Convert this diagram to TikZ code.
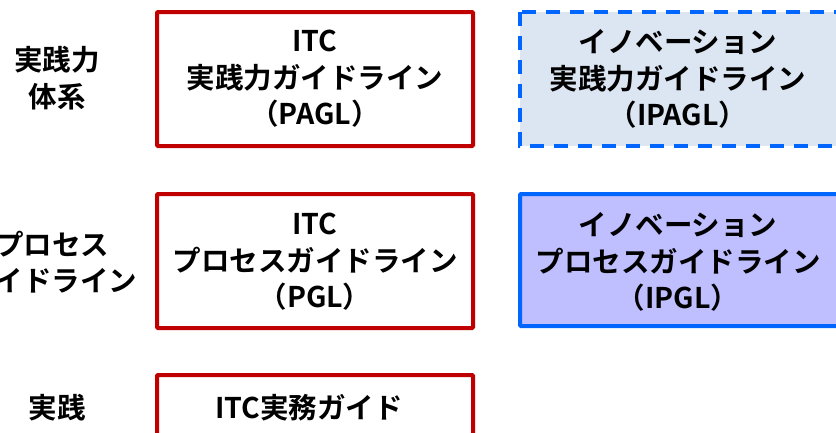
\documentclass[tikz,border=0pt]{standalone}
\usepackage{fontspec}
\setmainfont{Noto Sans CJK JP}[BoldFont={Noto Sans CJK JP Bold}]
\definecolor{cred}{RGB}{192,0,0}
\definecolor{cblue}{RGB}{0,102,255}
\definecolor{lightblue}{RGB}{220,230,242}
\definecolor{lavender}{RGB}{191,191,255}
\begin{document}
\begin{tikzpicture}[x=1pt,y=-1pt,
  txt/.style={font=\fontsize{28.5}{36.5}\selectfont\bfseries, align=center, inner sep=0pt},
  redbox/.style={draw=cred, line width=4pt, fill=white, rounded corners=1pt},
  bluedash/.style={draw=cblue, line width=4pt, fill=lightblue, dash pattern=on 14pt off 10pt},
  bluesolid/.style={draw=cblue, line width=4pt, fill=lavender, rounded corners=1pt}]
\useasboundingbox (0,0) rectangle (836,432);
% boxes
\draw[redbox] (157,12) rectangle (473,146);
\draw[redbox] (157,194) rectangle (473,328);
\draw[redbox] (157,375) rectangle (473,460);
\draw[bluedash] (520,12) rectangle (850,146);
\draw[bluesolid] (520,194) rectangle (850,326);
% texts
\node[txt] (pagl) at (315,79) {ITC\\実践力ガイドライン\\（PAGL）};
\node[txt] (pgl) at (315,262) {ITC\\プロセスガイドライン\\（PGL）};
\node[txt] (guide) at (309,408) {ITC実務ガイド};
\node[txt] (ipagl) at (678,79) {イノベーション\\実践力ガイドライン\\（IPAGL）};
\node[txt] (ipgl) at (678,262) {イノベーション\\プロセスガイドライン\\（IPGL）};
\node[txt] (l1) at (57,78) {実践力\\体系};
\node[txt] (l2) at (52,262) {プロセス\\ガイドライン};
\node[txt] (l3) at (57,408) {実践};
\end{tikzpicture}
\end{document}
